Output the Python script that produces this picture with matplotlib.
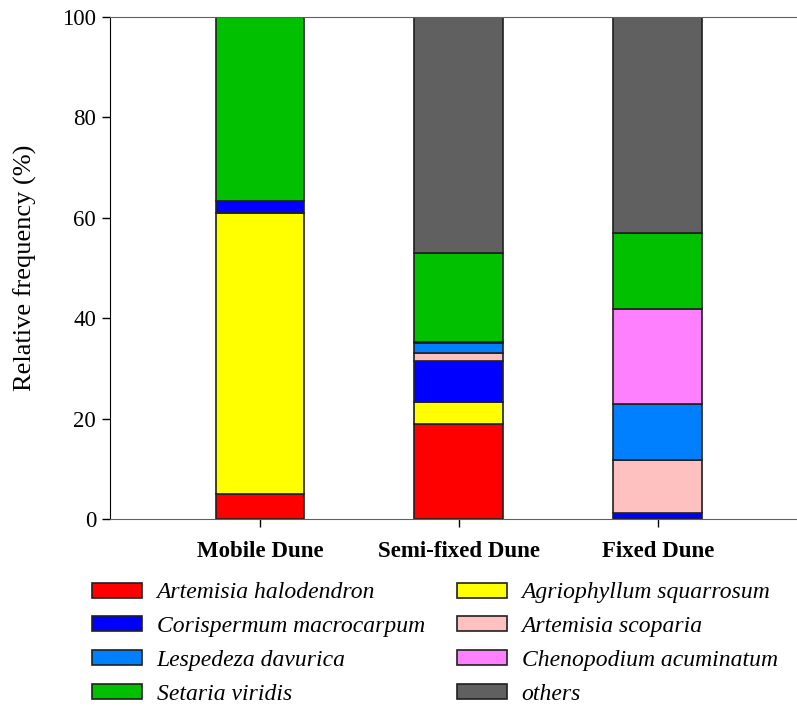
import numpy as np
import matplotlib.pyplot as plt
from matplotlib.patches import Patch

plt.rcParams['font.family'] = ['Liberation Serif', 'DejaVu Serif']

# categories and species (stack order bottom -> top)
sites = ["Mobile Dune", "Semi-fixed Dune", "Fixed Dune"]
species = ["Artemisia halodendron", "Agriophyllum squarrosum", "Corispermum macrocarpum",
           "Artemisia scoparia", "Lespedeza davurica", "Chenopodium acuminatum",
           "Setaria viridis", "others"]
colors = ["#FF0000", "#FFFF00", "#0000FF", "#FFC0C0", "#0080FF", "#FF80FF", "#00C000", "#606060"]

# relative frequency (%) per species, for each site
a_halodendron = [5.0, 19.0, 0.0]
a_squarrosum = [55.9, 4.2, 0.0]
c_macrocarpum = [2.4, 8.2, 1.1]
a_scoparia = [0.0, 1.6, 10.6]
l_davurica = [0.0, 2.0, 11.2]
c_acuminatum = [0.0, 0.3, 18.9]
s_viridis = [36.7, 17.6, 15.1]
others = [0.0, 47.1, 43.1]

values = [a_halodendron, a_squarrosum, c_macrocarpum, a_scoparia,
          l_davurica, c_acuminatum, s_viridis, others]

fig = plt.figure(figsize=(7.97, 7.06), dpi=100)
ax = fig.add_axes([0.138, 0.265, 0.862, 0.711])

x = np.arange(len(sites))
bottom = np.zeros(len(sites))
for vals, col, name in zip(values, colors, species):
    vals = np.array(vals)
    ax.bar(x, vals, width=0.447, bottom=bottom, color=col, edgecolor='#202020',
           linewidth=1.2, label=name)
    bottom += vals

ax.set_xlim(-0.754, 2.70)
ax.set_ylim(0, 100)
ax.set_yticks(np.arange(0, 101, 20))
ax.set_xticks(x)
ax.set_xticklabels(sites, fontweight='bold', fontsize=16.5)
ax.tick_params(axis='y', labelsize=16.5, direction='out', length=6, width=1, pad=4)
ax.tick_params(axis='x', direction='out', length=6, width=1, pad=10)
ax.set_ylabel("Relative frequency (%)", fontsize=19, labelpad=18)
ax.spines['right'].set_visible(False)
ax.spines['left'].set_color('black')
ax.spines['top'].set_color('#606060')
ax.spines['bottom'].set_color('#606060')

# legend: column 1 then column 2
order = [0, 2, 4, 6, 1, 3, 5, 7]
handles = [Patch(facecolor=colors[i], edgecolor='#202020', linewidth=1.2) for i in order]
labels = [species[i] for i in order]
fig.legend(handles, labels, loc='upper left', bbox_to_anchor=(0.115, 0.175), ncol=2,
           frameon=False, prop={'style': 'italic', 'size': 17}, handlelength=2.15,
           handleheight=0.6, labelspacing=0.54, columnspacing=1.35, handletextpad=0.6,
           borderpad=0, borderaxespad=0)

fig.savefig("out.png", dpi=100)
